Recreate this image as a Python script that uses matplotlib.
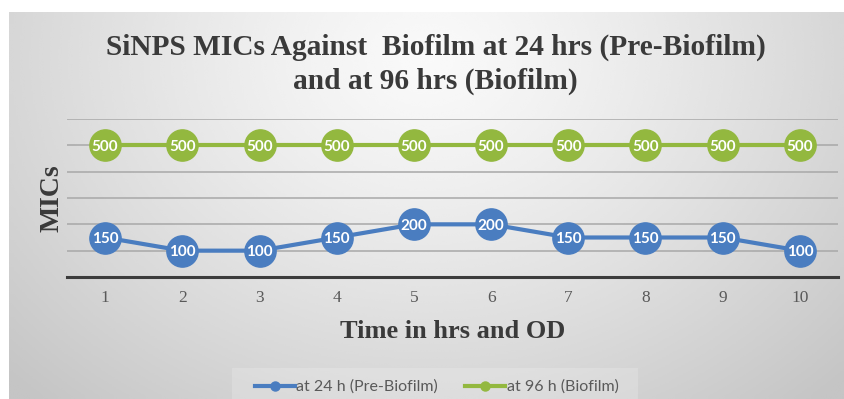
import numpy as np
import matplotlib
matplotlib.use("Agg")
import matplotlib.pyplot as plt
from matplotlib.lines import Line2D
from matplotlib.patches import Rectangle

# Data
time_points = [1, 2, 3, 4, 5, 6, 7, 8, 9, 10]
mic_24h = [150, 100, 100, 150, 200, 200, 150, 150, 150, 100]
mic_96h = [500, 500, 500, 500, 500, 500, 500, 500, 500, 500]
series_names = ["at 24 h (Pre-Biofilm)", "at 96 h (Biofilm)"]
title_lines = ["SiNPS MICs Against  Biofilm at 24 hrs (Pre-Biofilm)",
               "and at 96 hrs (Biofilm)"]
x_title = "Time in hrs and OD"
y_title = "MICs"

BLUE = "#4a7dc0"
GREEN = "#93b83f"
TEXT_DARK = "#3a3a3a"
TEXT_GRAY = "#595959"
SERIF = "Liberation Serif"
SANS = "Lato"

W, H = 845, 399
fig = plt.figure(figsize=(W / 100, H / 100), dpi=100)
fig.patch.set_facecolor("white")

# Chart area with a soft radial gradient
bg_left, bg_top = 9, 12
bg_ax = fig.add_axes([bg_left / W, 0, 1 - bg_left / W, (H - bg_top) / H])
bg_ax.set_axis_off()
gx = np.linspace(0, 1, 400)
gy = np.linspace(0, 1, 200)
XX, YY = np.meshgrid(gx, gy)
r = np.sqrt(((XX - 0.5) / 0.58) ** 2 + ((YY - 0.12) / 1.0) ** 2)
r = np.clip(r, 0, 1.2)
shade = 0.978 - 0.165 * r ** 1.25
bg_ax.imshow(shade, cmap="gray", vmin=0, vmax=1, aspect="auto",
             extent=[0, 1, 1, 0], interpolation="bicubic")
bg_ax.set_xlim(0, 1)
bg_ax.set_ylim(1, 0)

# Plot area
px0, px1 = 66.5, 838.5
py_top, py_bot = 119, 277
ax = fig.add_axes([px0 / W, (H - py_bot) / H, (px1 - px0) / W, (py_bot - py_top) / H])
ax.patch.set_alpha(0)
ax.set_xlim(0.5, 10.5)
ax.set_ylim(0, 600)
ax.set_yticks(np.arange(100, 601, 100))
ax.yaxis.grid(True, color="#a8a8a8", linewidth=1.1)
ax.set_axisbelow(True)
ax.tick_params(axis="y", left=False, labelleft=False)
ax.set_xticks(time_points)
ax.set_xticklabels([str(t) for t in time_points], fontfamily=SERIF,
                   fontsize=12.5, color=TEXT_GRAY)
ax.tick_params(axis="x", length=0, pad=9)
for side in ("left", "right", "top"):
    ax.spines[side].set_visible(False)
ax.spines["bottom"].set_color("#3c3c3c")
ax.spines["bottom"].set_linewidth(2.2)

for values, color in ((mic_24h, BLUE), (mic_96h, GREEN)):
    ax.plot(time_points, values, color=color, linewidth=3.0, marker="o",
            markersize=22.5, markerfacecolor=color, markeredgecolor=color,
            zorder=3, clip_on=False)
    for x, v in zip(time_points, values):
        ax.text(x, v, str(v), ha="center", va="center_baseline",
                color="white", fontsize=11, fontweight="bold",
                fontfamily=SANS, zorder=4)

# Titles
fig.text(435.5 / W, 1 - 55 / H, title_lines[0], ha="center", va="baseline",
         fontfamily=SERIF, fontweight="bold", fontsize=21.2, color=TEXT_DARK)
fig.text(435.5 / W, 1 - 88.5 / H, title_lines[1], ha="center", va="baseline",
         fontfamily=SERIF, fontweight="bold", fontsize=21.2, color=TEXT_DARK)
fig.text((px0 + px1) / 2 / W, 1 - 338 / H, x_title, ha="center", va="baseline",
         fontfamily=SERIF, fontweight="bold", fontsize=19, color=TEXT_DARK)
fig.text(52 / W, 1 - 198 / H, y_title, ha="center", va="center", rotation=90,
         fontfamily=SERIF, fontweight="bold", fontsize=20, color=TEXT_DARK)

# Legend
fig.patches.append(Rectangle((232 / W, 0), 406 / W, (H - 368) / H,
                             transform=fig.transFigure, facecolor="white",
                             alpha=0.18, edgecolor="none", zorder=1))
handles = [Line2D([], [], color=BLUE, linewidth=3, marker="o", markersize=6.5),
           Line2D([], [], color=GREEN, linewidth=3, marker="o", markersize=6.5)]
leg = fig.legend(handles, series_names, loc="center",
                 bbox_to_anchor=(436.5 / W, 1 - 387 / H), ncol=2,
                 frameon=False, handlelength=2.5, handletextpad=0.1,
                 columnspacing=1.7, prop={"family": SANS, "size": 11.5})
for t in leg.get_texts():
    t.set_color(TEXT_GRAY)

fig.savefig("out.png", dpi=100)
